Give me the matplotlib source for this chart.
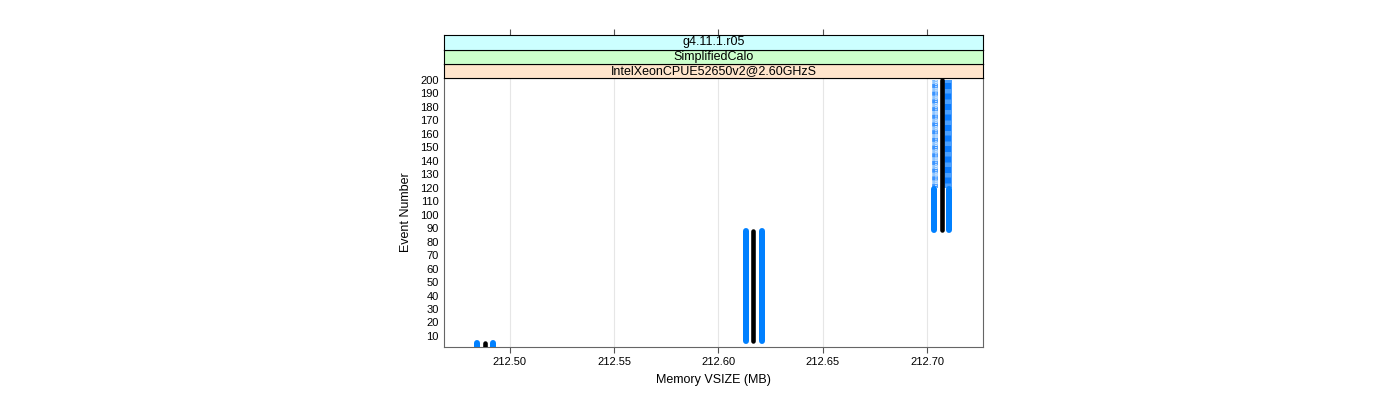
import matplotlib
matplotlib.use("Agg")
import matplotlib.pyplot as plt

plt.rcParams['font.family'] = ['Liberation Sans', 'DejaVu Sans']

# ---- data ----
strip_labels = ["g4.11.1.r05", "SimplifiedCalo", "IntelXeonCPUE52650v2@2.60GHzS"]
strip_colors = ["#CCFFFF", "#CCFFCC", "#FFE5CC"]

# three clusters of memory values, each spanning a range of events
low_x = [212.4844, 212.6131, 212.7030]       # blue, left
mid_x = [212.4884, 212.6167, 212.7069]       # black, centre
high_x = [212.4923, 212.6207, 212.7105]      # blue, right
ev_start = [1, 6, 89]
ev_end = [5, 88, 119]
mid_end = [5, 88, 200]

# upper part of last cluster (alternating values -> striped look)
upper_low_x = [212.7036]
upper_high_x = [212.7098]
upper_start = [120]
upper_end = [200]

x_ticks = [212.50, 212.55, 212.60, 212.65, 212.70]
x_tick_labels = ["212.50", "212.55", "212.60", "212.65", "212.70"]
y_ticks = list(range(10, 201, 10))
xlim = (212.4684, 212.7268)
ylim = (1.8, 201.5)

BLUE = "#0080FF"

fig = plt.figure(figsize=(14, 4), dpi=100)
ax = fig.add_axes([0.3168, 0.1325, 0.3856, 0.6725])

for x in x_ticks:
    ax.axvline(x, color="#E6E6E6", lw=0.8, zorder=0)

px = 72 / 100.0
for i in range(len(low_x)):
    ax.plot([low_x[i], low_x[i]], [ev_start[i], ev_end[i]], color=BLUE,
            lw=6 * px, solid_capstyle="round", zorder=3)
    ax.plot([high_x[i], high_x[i]], [ev_start[i], ev_end[i]], color=BLUE,
            lw=6 * px, solid_capstyle="round", zorder=3)
    ax.plot([mid_x[i], mid_x[i]], [ev_start[i], mid_end[i]], color="black",
            lw=4.6 * px, solid_capstyle="round", zorder=4)

for i in range(len(upper_low_x)):
    ax.plot([upper_low_x[i]] * 2, [upper_start[i], upper_end[i]], color="#8EC5FF",
            lw=5.5 * px, solid_capstyle="butt", zorder=2)
    ax.plot([upper_low_x[i]] * 2, [upper_start[i], upper_end[i]], color="#3A94FF",
            lw=5.5 * px, solid_capstyle="butt", dashes=(0.7, 0.7), zorder=2)
    ax.plot([upper_low_x[i] + 0.0003] * 2, [upper_start[i], upper_end[i]], color="#F0F7FF",
            lw=1.5 * px, solid_capstyle="butt", dashes=(0.7, 0.7), zorder=2)
    ax.plot([upper_high_x[i]] * 2, [upper_start[i], upper_end[i]], color="#0A7CFF",
            lw=7.5 * px, solid_capstyle="butt", zorder=2)
    ax.plot([upper_high_x[i]] * 2, [upper_start[i], upper_end[i]], color="#4AA0FF",
            lw=7.5 * px, solid_capstyle="butt", dashes=(0.6, 0.8), zorder=2)

ax.set_xlim(*xlim)
ax.set_ylim(*ylim)
ax.set_xticks(x_ticks)
ax.set_xticklabels(x_tick_labels, fontsize=8)
ax.set_yticks(y_ticks)
ax.set_yticklabels([str(v) for v in y_ticks], fontsize=8)
ax.tick_params(axis="x", direction="out", length=4.3, width=0.8, color="#555555", pad=3)
ax.tick_params(axis="y", length=0, pad=3.6)
for s in ax.spines.values():
    s.set_color("#666666")
    s.set_linewidth(0.8)
ax.set_xlabel("Memory VSIZE (MB)", fontsize=9, labelpad=5)
ax.set_ylabel("Event Number", fontsize=9, labelpad=6)

# strips (orange lowest, cyan top)
strip_h = 0.0355
for k, (lab, col) in enumerate(zip(reversed(strip_labels), reversed(strip_colors))):
    sax = fig.add_axes([0.3168, 0.805 + k * strip_h, 0.3856, strip_h])
    sax.set_facecolor(col)
    sax.set_xlim(*xlim)
    sax.set_ylim(0, 1)
    sax.set_yticks([])
    if k == len(strip_labels) - 1:
        sax.set_xticks(x_ticks)
        sax.xaxis.tick_top()
        sax.set_xticklabels([])
        sax.tick_params(axis="x", direction="out", length=4.3, width=0.8, color="#555555")
    else:
        sax.set_xticks([])
    for s in sax.spines.values():
        s.set_color("black")
        s.set_linewidth(0.8)
    sax.text(0.5, 0.5, lab, transform=sax.transAxes, ha="center", va="center", fontsize=9)

fig.savefig("out.png", dpi=100)
